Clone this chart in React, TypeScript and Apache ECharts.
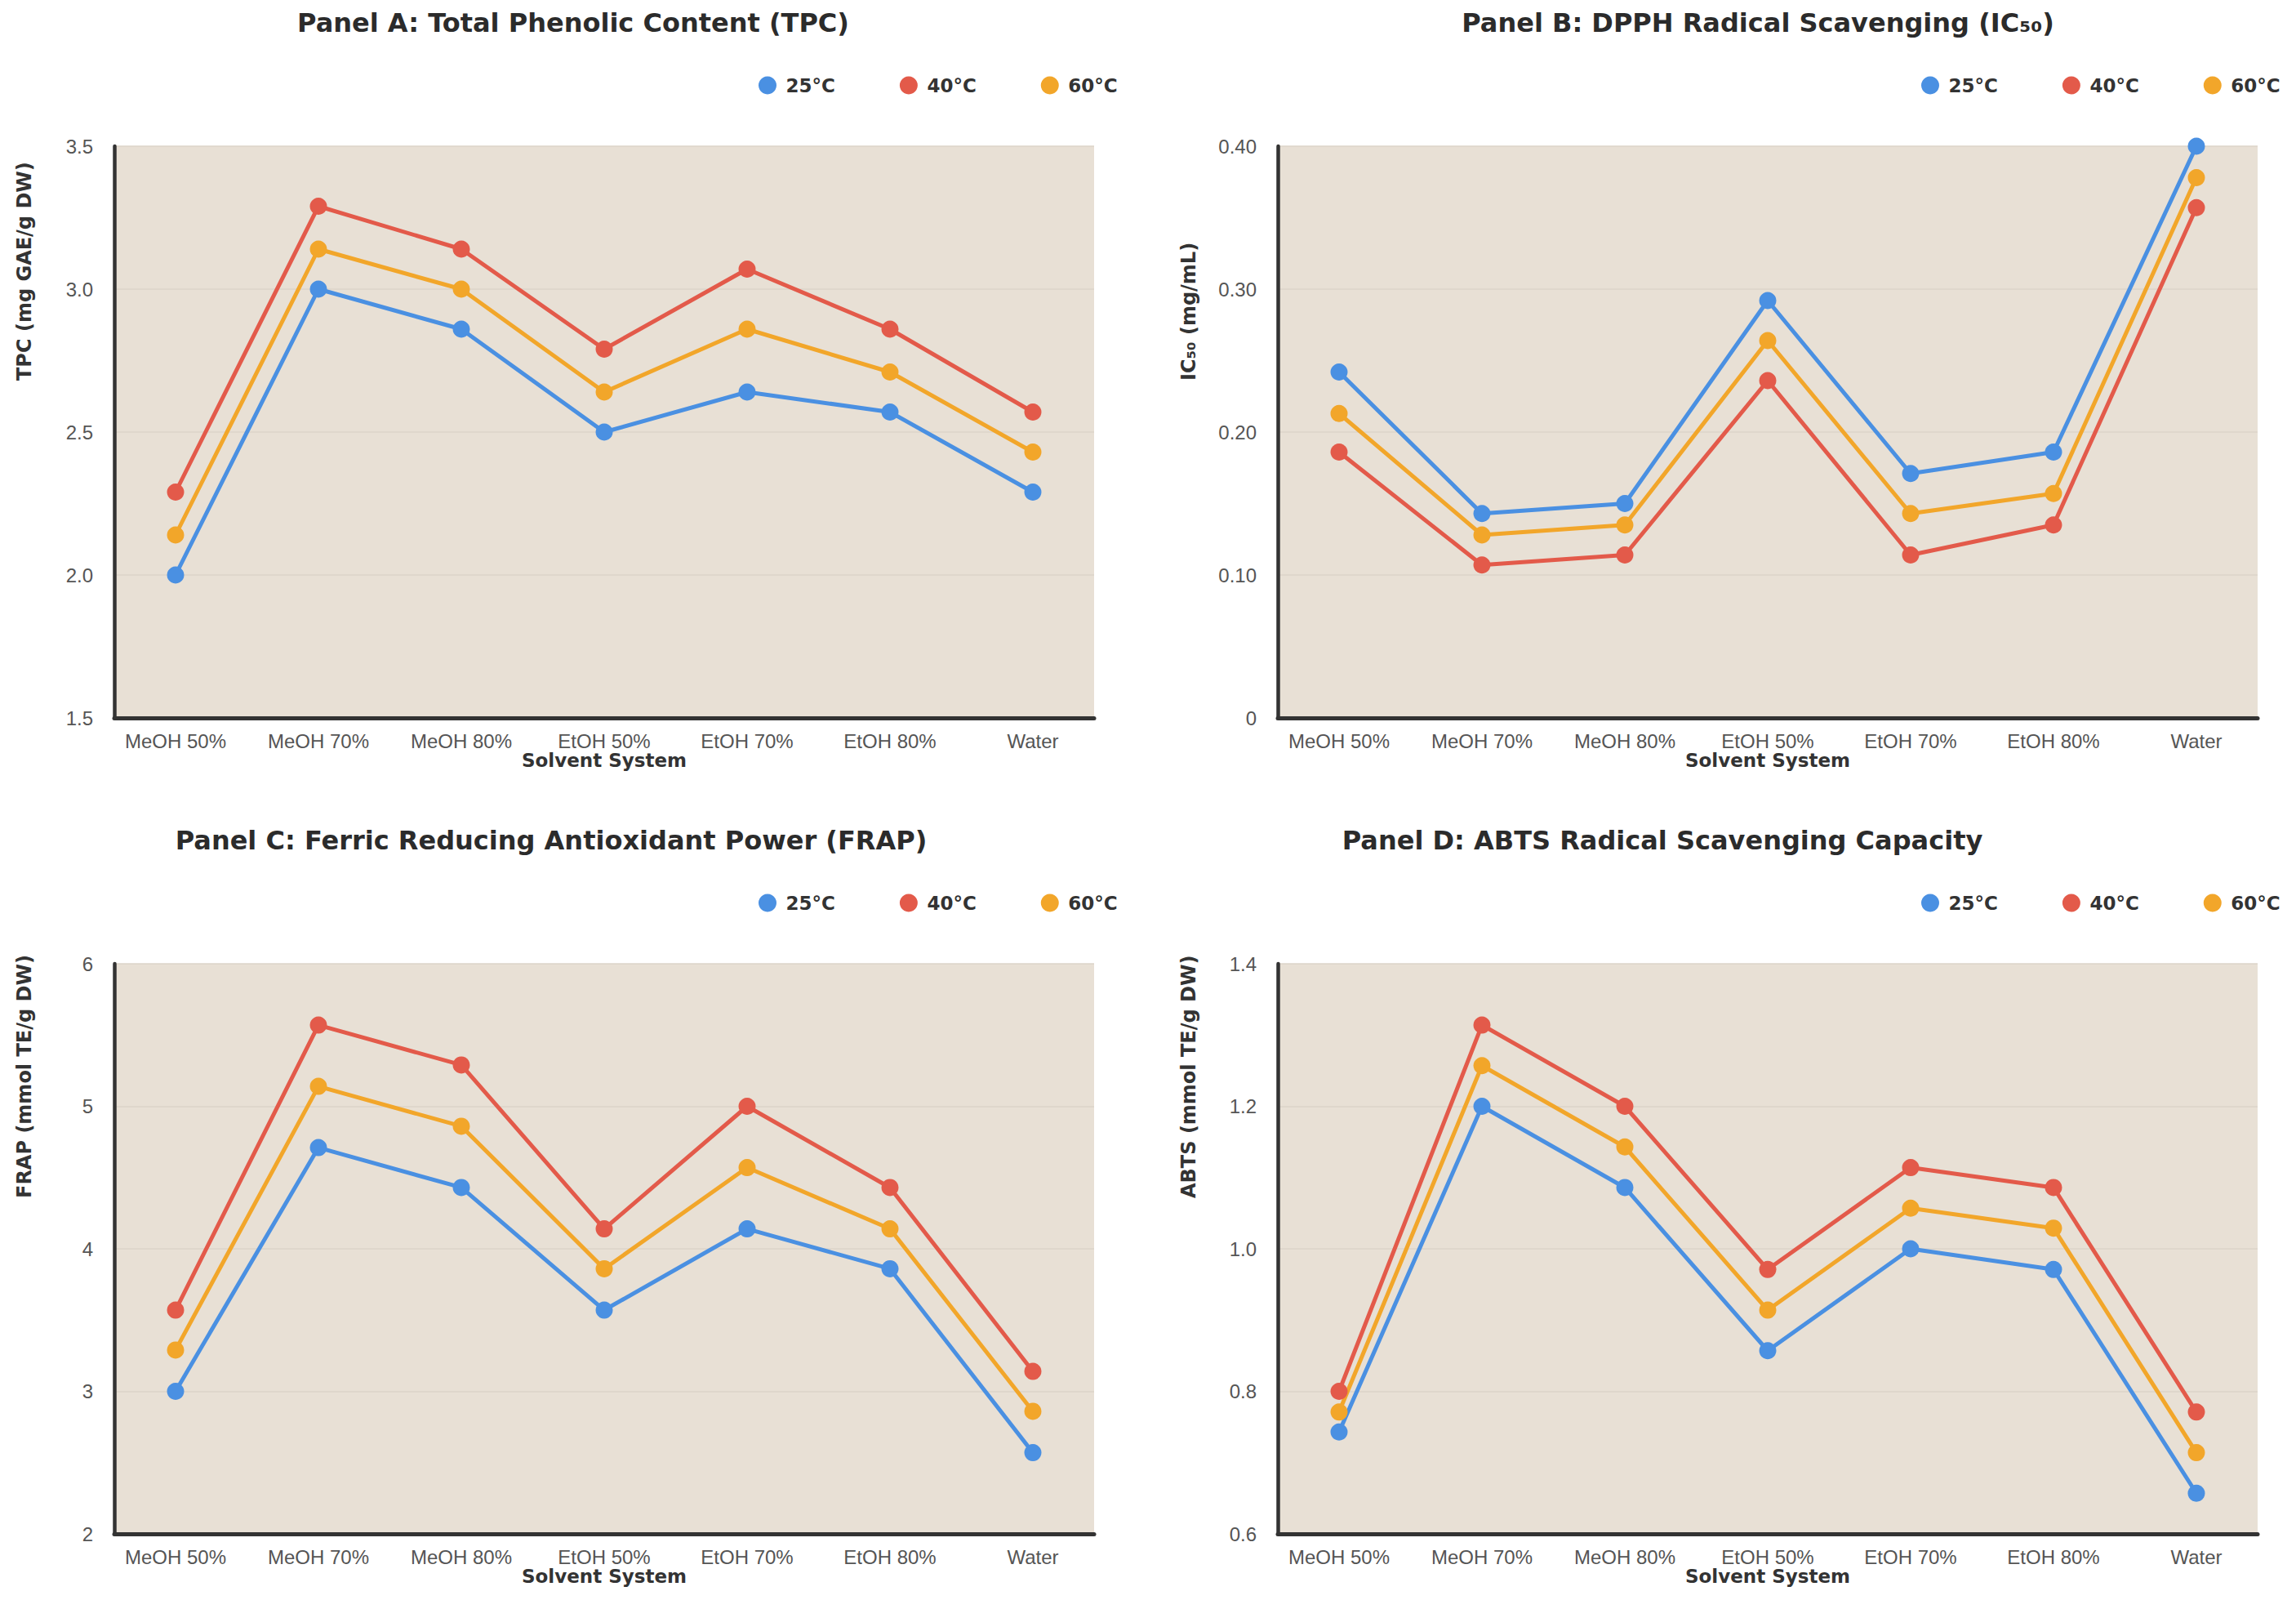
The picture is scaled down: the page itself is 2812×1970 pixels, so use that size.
import React, { useEffect, useRef } from 'react';
import * as echarts from 'echarts';

const categories = ['MeOH 50%', 'MeOH 70%', 'MeOH 80%', 'EtOH 50%', 'EtOH 70%', 'EtOH 80%', 'Water'];
const temperatures = ['25°C', '40°C', '60°C'];

const tpc25 = [2.0, 3.0, 2.86, 2.5, 2.64, 2.57, 2.29];
const tpc40 = [2.29, 3.29, 3.14, 2.79, 3.07, 2.86, 2.57];
const tpc60 = [2.14, 3.14, 3.0, 2.64, 2.86, 2.71, 2.43];

const dpph25 = [0.242, 0.143, 0.15, 0.292, 0.171, 0.186, 0.4];
const dpph40 = [0.186, 0.107, 0.114, 0.236, 0.114, 0.135, 0.357];
const dpph60 = [0.213, 0.128, 0.135, 0.264, 0.143, 0.157, 0.378];

const frap25 = [3.0, 4.71, 4.43, 3.57, 4.14, 3.86, 2.57];
const frap40 = [3.57, 5.57, 5.29, 4.14, 5.0, 4.43, 3.14];
const frap60 = [3.29, 5.14, 4.86, 3.86, 4.57, 4.14, 2.86];

const abts25 = [0.743, 1.2, 1.086, 0.857, 1.0, 0.971, 0.657];
const abts40 = [0.8, 1.314, 1.2, 0.971, 1.114, 1.086, 0.771];
const abts60 = [0.771, 1.257, 1.143, 0.914, 1.057, 1.029, 0.714];

const panelTitles = [
  'Panel A: Total Phenolic Content (TPC)',
  'Panel B: DPPH Radical Scavenging (IC₅₀)',
  'Panel C: Ferric Reducing Antioxidant Power (FRAP)',
  'Panel D: ABTS Radical Scavenging Capacity',
];
const yAxisNames = ['TPC (mg GAE/g DW)', 'IC₅₀ (mg/mL)', 'FRAP (mmol TE/g DW)', 'ABTS (mmol TE/g DW)'];
const xAxisName = 'Solvent System';

const yMin = [1.5, 0, 2, 0.6];
const yMax = [3.5, 0.4, 6, 1.4];
const yInterval = [0.5, 0.1, 1, 0.2];

const panelSeries = [
  [tpc25, tpc40, tpc60],
  [dpph25, dpph40, dpph60],
  [frap25, frap40, frap60],
  [abts25, abts40, abts60],
];

const yFormatters = [
  (v: number) => v.toFixed(1),
  (v: number) => (v === 0 ? '0' : v.toFixed(2)),
  (v: number) => String(Math.round(v)),
  (v: number) => v.toFixed(1),
];

// layout (pixels)
const layout = [
  { left: 140, top: 179, height: 700, titleX: 702, titleY: 12, legendX: 929, legendY: 93, nameX: 30, nameY: 466 },
  { left: 1565, top: 179, height: 700, titleX: 2153, titleY: 12, legendX: 2353, legendY: 93, nameX: 1456, nameY: 466 },
  { left: 140, top: 1180, height: 698, titleX: 675, titleY: 1013, legendX: 929, legendY: 1094, nameX: 30, nameY: 1467 },
  { left: 1565, top: 1180, height: 698, titleX: 2036, titleY: 1013, legendX: 2353, legendY: 1094, nameX: 1456, nameY: 1467 },
];
const gridWidth = 1200;
const colors = ['#4a90e2', '#e35a4a', '#f2a62a'];
const boldFont = "'DejaVu Sans', sans-serif";
const tickFont = "'Liberation Sans', Arial, sans-serif";

export default function App() {
  const ref = useRef<HTMLDivElement>(null);
  useEffect(() => {
    document.body.style.margin = '0';
    if (!ref.current) return;
    const chart = echarts.init(ref.current, null, { renderer: 'svg' });
    const xPad = 0.4286;
    const option: any = {
      animation: false,
      backgroundColor: '#ffffff',
      title: panelTitles.map((t, i) => ({
        text: t,
        left: layout[i].titleX,
        top: layout[i].titleY,
        textAlign: 'center',
        padding: 0,
        textStyle: { fontFamily: boldFont, fontWeight: 'bold', fontSize: 32, color: '#2b2b2b' },
      })),
      legend: layout.map((l) => ({
        data: temperatures,
        left: l.legendX,
        top: l.legendY,
        orient: 'horizontal',
        icon: 'circle',
        itemWidth: 35,
        itemHeight: 22,
        itemGap: 79,
        padding: 0,
        textStyle: { fontFamily: boldFont, fontWeight: 'bold', fontSize: 23, color: '#333' },
      })),
      grid: layout.map((l) => ({
        left: l.left,
        top: l.top,
        width: gridWidth,
        height: l.height,
        show: true,
        backgroundColor: '#e8e0d5',
        borderWidth: 0,
        containLabel: false,
        outerBoundsMode: 'none',
      })),
      xAxis: layout.map((_, i) => ({
        type: 'value',
        gridIndex: i,
        min: -xPad,
        max: categories.length - 1 + xPad,
        axisLine: { show: true, onZero: false, lineStyle: { color: '#333', width: 5 } },
        axisTick: { show: false },
        splitLine: { show: false },
        axisLabel: {
          customValues: categories.map((_, k) => k),
          formatter: (v: number) => categories[Math.round(v)],
          margin: 16,
          fontSize: 24,
          fontFamily: tickFont,
          color: '#555',
        },
        name: xAxisName,
        nameLocation: 'middle',
        nameGap: 37,
        nameTextStyle: { fontFamily: boldFont, fontWeight: 'bold', fontSize: 23, color: '#333' },
      })),
      yAxis: layout.map((_, i) => ({
        type: 'value',
        gridIndex: i,
        min: yMin[i],
        max: yMax[i],
        interval: yInterval[i],
        axisLine: { show: true, onZero: false, lineStyle: { color: '#333', width: 4.5 } },
        axisTick: { show: false },
        splitLine: { show: true, lineStyle: { color: '#ddd4c8', width: 1.5 } },
        axisLabel: {
          formatter: yFormatters[i],
          margin: 26,
          fontSize: 24,
          fontFamily: tickFont,
          color: '#555',
        },
      })),
      graphic: layout.map((l, i) => ({
        type: 'text',
        x: l.nameX,
        y: l.nameY,
        rotation: Math.PI / 2,
        style: {
          text: yAxisNames[i],
          fontFamily: boldFont,
          fontWeight: 'bold',
          fontSize: 24,
          fill: '#333',
          textAlign: 'left',
          textVerticalAlign: 'middle',
        },
      })),
      series: panelSeries.flatMap((group, i) =>
        group.map((vals, k) => ({
          type: 'line',
          name: temperatures[k],
          xAxisIndex: i,
          yAxisIndex: i,
          data: vals.map((v, idx) => [idx, v]),
          symbol: 'circle',
          symbolSize: 21,
          lineStyle: { width: 5, color: colors[k] },
          itemStyle: { color: colors[k] },
          z: 3,
        }))
      ),
    };
    chart.setOption(option);
    return () => chart.dispose();
  }, []);
  return <div ref={ref} style={{ width: 2812, height: 1970 }} />;
}
